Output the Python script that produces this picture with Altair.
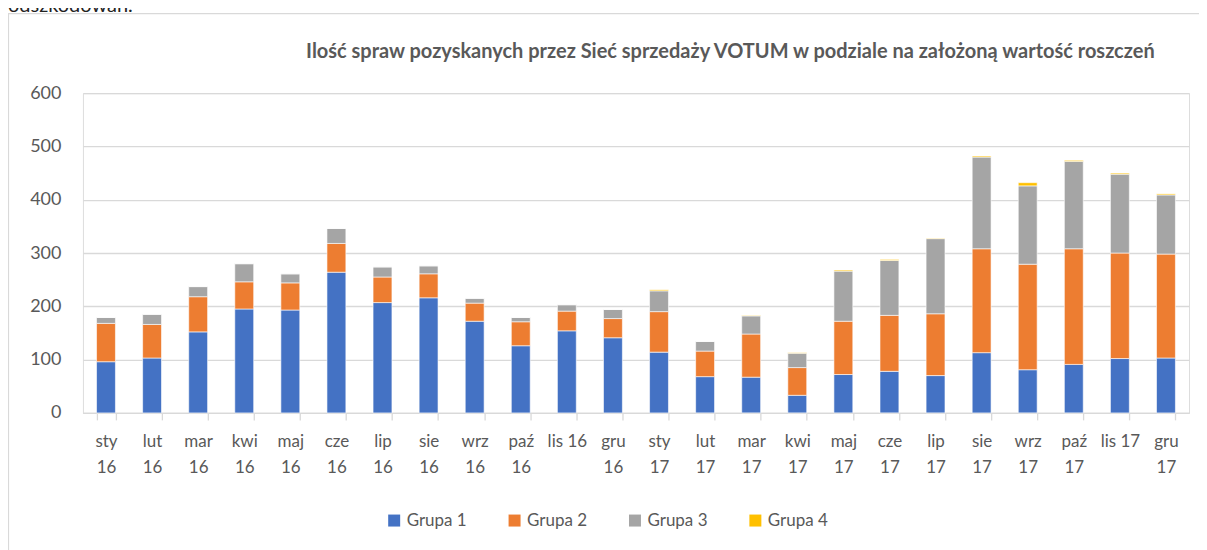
import altair as alt
import pandas as pd

categories = ["sty 16", "lut 16", "mar 16", "kwi 16", "maj 16", "cze 16", "lip 16", "sie 16",
              "wrz 16", "paź 16", "lis 16", "gru 16", "sty 17", "lut 17", "mar 17", "kwi 17",
              "maj 17", "cze 17", "lip 17", "sie 17", "wrz 17", "paź 17", "lis 17", "gru 17"]
grupa1 = [96, 103, 152, 195, 193, 264, 207, 216, 172, 126, 154, 141, 114, 68, 67, 33, 72, 78, 70, 113, 81, 91, 102, 103]
grupa2 = [72, 63, 66, 51, 51, 54, 48, 45, 34, 45, 37, 36, 76, 48, 81, 52, 100, 105, 116, 195, 198, 217, 198, 195]
grupa3 = [11, 19, 19, 34, 17, 28, 19, 15, 9, 8, 12, 17, 39, 18, 34, 27, 94, 103, 141, 172, 147, 164, 148, 111]
grupa4 = [0, 0, 0, 0, 0, 0, 0, 0, 0, 0, 0, 0, 2, 0, 1, 1, 2, 2, 1, 2, 6, 2, 2, 2]
series = ["Grupa 1", "Grupa 2", "Grupa 3", "Grupa 4"]
colors = ["#4472C4", "#ED7D31", "#A5A5A5", "#FFC000"]
title_text = "Ilość spraw pozyskanych przez Sieć sprzedaży VOTUM w podziale na założoną wartość roszczeń"

rows = []
for si, (name, vals) in enumerate(zip(series, [grupa1, grupa2, grupa3, grupa4])):
    for c, v in zip(categories, vals):
        rows.append({"miesiac": c, "grupa": name, "wartosc": v, "kolejnosc": si})
df = pd.DataFrame(rows)

FONT = "Lato"
TXT = "#595959"
GRID = "#d9d9d9"

bars = alt.Chart(df).mark_bar(stroke="white", strokeWidth=0.6).encode(
    x=alt.X("miesiac:N", sort=categories,
            scale=alt.Scale(paddingInner=0.59, paddingOuter=0.295),
            axis=alt.Axis(title=None, labelAngle=0, labelFontSize=17, labelColor=TXT, labelFont=FONT,
                          labelLineHeight=26, labelBaseline="top", labelPadding=14,
                          tickBand="extent", ticks=True, tickColor=GRID, tickSize=7, tickWidth=1.3,
                          domainColor=GRID, domainWidth=1.3, grid=False,
                          labelExpr="indexof(datum.label, 'lis') == 0 ? datum.label : split(datum.label, ' ')")),
    y=alt.Y("wartosc:Q", stack="zero",
            scale=alt.Scale(domain=[0, 600], nice=False),
            axis=alt.Axis(title=None, values=[0, 100, 200, 300, 400, 500, 600], labelFontSize=18,
                          labelColor=TXT, labelFont=FONT, labelPadding=22, domain=False, ticks=False,
                          gridColor=GRID, gridWidth=1.3)),
    color=alt.Color("grupa:N", scale=alt.Scale(domain=series, range=colors),
                    legend=alt.Legend(title=None, orient="none", direction="horizontal", columns=4,
                                      legendX=303, legendY=419, symbolType="square", symbolSize=144,
                                      symbolStrokeWidth=0, labelFontSize=17, labelColor=TXT,
                                      labelFont=FONT, columnPadding=38.5, labelOffset=4)),
    order=alt.Order("kolejnosc:Q", sort="ascending"),
)

frame_df = pd.DataFrame({"a": [0]})
frame = alt.Chart(frame_df).mark_rect(filled=False, stroke=GRID, strokeWidth=1.2).encode(
    x=alt.value(-74.5), x2=alt.value(1300), y=alt.value(-79.5), y2=alt.value(700)
)
top_text = alt.Chart(frame_df).mark_text(align="left", baseline="alphabetic", fontSize=20,
                                         font=FONT, color="#222222").encode(
    x=alt.value(-75), y=alt.value(-81), text=alt.value("odszkodowań.")
)
title = alt.Chart(frame_df).mark_text(align="center", baseline="middle", fontSize=20,
                                      font=FONT, fontWeight="bold", color=TXT).encode(
    x=alt.value(648), y=alt.value(-41), text=alt.value(title_text)
)

chart = alt.layer(frame, top_text, title, bars).properties(
    width=1107, height=320,
    autosize="none",
    padding={"left": 75, "top": 85, "right": 10, "bottom": 137},
).configure_view(stroke=None).configure(background="white")

chart.save("out.html", embed_options={"renderer": "svg", "actions": False})
